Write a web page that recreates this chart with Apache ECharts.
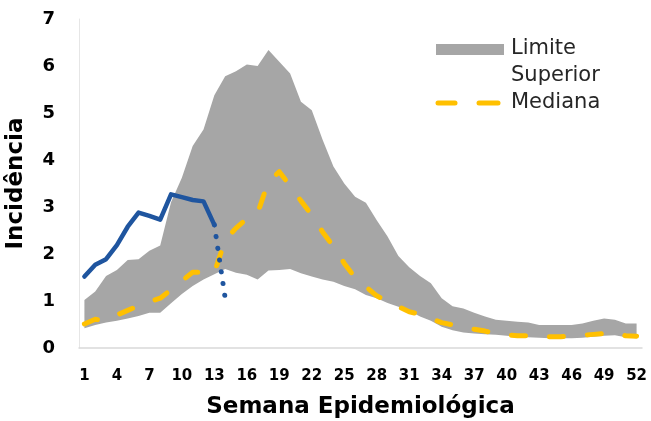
<!DOCTYPE html>
<html>
<head>
<meta charset="utf-8">
<script src="https://cdn.jsdelivr.net/npm/echarts@6/dist/echarts.min.js"></script>
<style>
html,body{margin:0;padding:0;background:#fff;overflow:hidden;}
#c{width:651px;height:421px;}
</style>
</head>
<body>
<div id="c"></div>
<script>
var weeks = [];
for (var i = 1; i <= 52; i++) weeks.push(String(i));

var upperLimit = [1.02,1.20,1.53,1.66,1.87,1.89,2.07,2.18,3.10,3.62,4.30,4.65,5.38,5.78,5.89,6.03,6.00,6.34,6.09,5.84,5.24,5.06,4.43,3.86,3.50,3.22,3.09,2.72,2.37,1.96,1.72,1.53,1.38,1.06,0.89,0.84,0.75,0.67,0.60,0.58,0.56,0.54,0.49,0.49,0.49,0.49,0.52,0.58,0.63,0.60,0.52,0.52];
var lowerLimit = [0.42,0.49,0.54,0.58,0.63,0.68,0.75,0.75,0.95,1.15,1.32,1.46,1.57,1.68,1.60,1.56,1.46,1.65,1.66,1.68,1.59,1.52,1.46,1.41,1.32,1.25,1.13,1.06,0.96,0.88,0.79,0.67,0.58,0.45,0.38,0.33,0.31,0.29,0.28,0.26,0.24,0.23,0.22,0.21,0.21,0.21,0.22,0.24,0.26,0.27,0.23,0.21];
var median = [0.51,0.61,0.58,0.70,0.80,0.90,0.98,1.06,1.24,1.43,1.61,1.61,1.60,2.30,2.55,2.75,2.87,3.55,3.75,3.45,3.13,2.83,2.47,2.16,1.80,1.50,1.30,1.11,0.99,0.88,0.77,0.72,0.63,0.54,0.49,0.43,0.40,0.36,0.31,0.28,0.26,0.26,0.26,0.24,0.24,0.26,0.27,0.29,0.31,0.33,0.26,0.25];
var current = [1.52,1.77,1.89,2.19,2.58,2.88,2.81,2.73,3.27,3.21,3.15,3.12,2.62];
var projected = {13: 2.62, 14: 1.06};
var yTicks = [0,1,2,3,4,5,6,7];

var bandDiff = upperLimit.map(function(u, i){ return +(u - lowerLimit[i]).toFixed(3); });
var currentFull = weeks.map(function(w, i){ return i < current.length ? current[i] : null; });
var projFull = weeks.map(function(w){ return projected[+w] !== undefined ? projected[+w] : null; });

var FONT = 'DejaVu Sans';
var chart = echarts.init(document.getElementById('c'), null, {width: 651, height: 421});
chart.setOption({
  animation: false,
  backgroundColor: '#ffffff',
  grid: {left: 79, right: 9, top: 19, bottom: 73, containLabel: false, outerBoundsMode: 'none'},
  xAxis: {
    type: 'category',
    data: weeks,
    boundaryGap: true,
    axisLine: {lineStyle: {color: '#d9d9d9', width: 1.5}},
    axisTick: {show: false},
    axisLabel: {interval: 2, margin: 21, fontFamily: FONT, fontWeight: 'bold', fontSize: 15, color: '#000'},
    name: 'Semana Epidemiológica',
    nameLocation: 'middle',
    nameGap: 48,
    nameTextStyle: {fontFamily: FONT, fontWeight: 'bold', fontSize: 23, color: '#000'}
  },
  yAxis: {
    type: 'value',
    min: yTicks[0], max: yTicks[yTicks.length-1], interval: 1,
    axisLine: {show: true, lineStyle: {color: '#e6e6e6', width: 1}},
    axisTick: {show: false},
    splitLine: {show: false},
    axisLabel: {margin: 24, fontFamily: FONT, fontWeight: 'bold', fontSize: 18, color: '#000'},
    name: 'Incidência',
    nameLocation: 'middle',
    nameGap: 51,
    nameTextStyle: {fontFamily: FONT, fontWeight: 'bold', fontSize: 23, color: '#000'}
  },
  series: [
    {type: 'line', data: lowerLimit, stack: 'band', symbol: 'none', lineStyle: {width: 0, opacity: 0}, silent: true},
    {type: 'line', data: bandDiff, stack: 'band', symbol: 'none', lineStyle: {width: 0, opacity: 0}, areaStyle: {color: '#a6a6a6', opacity: 1}, silent: true},
    {type: 'line', data: median, symbol: 'none', lineStyle: {color: '#ffc000', width: 5, type: [14, 24], cap: 'round', join: 'round'}},
    {type: 'line', data: currentFull, symbol: 'none', lineStyle: {color: '#1f559f', width: 4.5, cap: 'round', join: 'round'}},
    {type: 'line', data: projFull, symbol: 'none', lineStyle: {color: '#1f559f', width: 5, type: [0.1, 12], cap: 'round'}}
  ],
  graphic: [
    {type: 'rect', shape: {x: 436, y: 44, width: 68, height: 11}, style: {fill: '#a6a6a6'}},
    {type: 'text', x: 511, y: 49, style: {text: 'Limite', fontFamily: FONT, fontSize: 21, fill: '#262626', textVerticalAlign: 'middle'}},
    {type: 'text', x: 511, y: 76, style: {text: 'Superior', fontFamily: FONT, fontSize: 21, fill: '#262626', textVerticalAlign: 'middle'}},
    {type: 'line', shape: {x1: 438, y1: 103, x2: 455, y2: 103}, style: {stroke: '#ffc000', lineWidth: 5, lineCap: 'round'}},
    {type: 'line', shape: {x1: 479, y1: 103, x2: 498, y2: 103}, style: {stroke: '#ffc000', lineWidth: 5, lineCap: 'round'}},
    {type: 'text', x: 511, y: 103, style: {text: 'Mediana', fontFamily: FONT, fontSize: 21, fill: '#262626', textVerticalAlign: 'middle'}}
  ]
});
// dot spacing so the dotted projection ends on its last point
var p13 = chart.convertToPixel({gridIndex: 0}, ['13', projected[13]]);
var p14 = chart.convertToPixel({gridIndex: 0}, ['14', projected[14]]);
var len = Math.hypot(p14[0]-p13[0], p14[1]-p13[1]);
chart.setOption({
  series: [{}, {}, {}, {}, {lineStyle: {type: [0.1, len/6 - 0.6]}}]
});
</script>
</body>
</html>
